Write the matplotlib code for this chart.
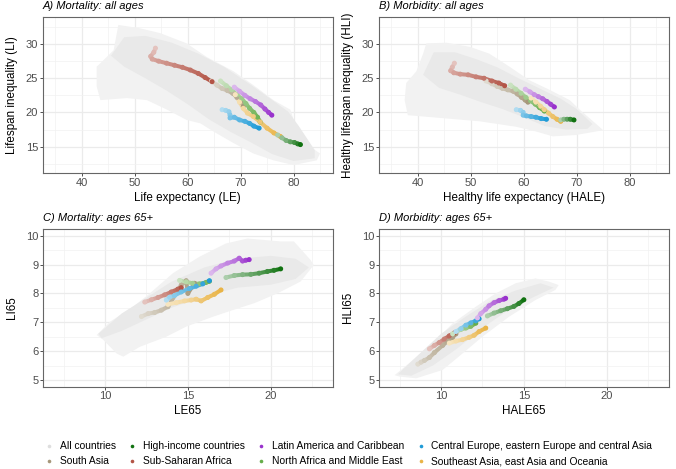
import matplotlib
matplotlib.use('Agg')
import matplotlib.pyplot as plt
import numpy as np
from matplotlib.collections import LineCollection
from matplotlib.patches import Polygon
from matplotlib.lines import Line2D
import matplotlib.colors as mcolors

plt.rcParams['font.family'] = ['Liberation Sans', 'DejaVu Sans']

# ---------------- categories / colours ----------------
region_keys = ['HI', 'LAC', 'CEE', 'SA', 'SSA', 'NAME', 'SEA']
region_names = {
    'HI': 'High-income countries',
    'LAC': 'Latin America and Caribbean',
    'CEE': 'Central Europe, eastern Europe and central Asia',
    'SA': 'South Asia',
    'SSA': 'Sub-Saharan Africa',
    'NAME': 'North Africa and Middle East',
    'SEA': 'Southeast Asia, east Asia and Oceania',
}
region_colors = {
    'HI': '#117211', 'LAC': '#9932cc', 'CEE': '#1f9bd7', 'SA': '#a6977a',
    'SSA': '#b35446', 'NAME': '#66ad4a', 'SEA': '#e9b447',
}
draw_order = ['SA', 'SSA', 'NAME', 'SEA', 'CEE', 'LAC', 'HI']

# ---------------- Panel A: LE vs LI (all ages) ----------------
A_x = {
    'SSA': [53.9, 53.6, 53.0, 53.3, 54.5, 56.0, 57.5, 59.0, 60.5, 62.0, 63.3, 64.6],
    'SA': [64.5, 65.5, 66.5, 67.5, 68.5, 69.3, 70.0, 70.5],
    'NAME': [66.2, 67.3, 68.3, 69.3, 70.2, 71.0, 71.7, 72.5, 73.2, 73.7],
    'SEA': [69.0, 69.8, 70.5, 71.3, 72.4, 73.7, 75.0, 76.3, 77.5],
    'HI': [77.0, 77.8, 78.6, 79.4, 80.2, 80.8, 81.3],
    'LAC': [68.8, 69.8, 70.8, 71.8, 72.8, 73.8, 74.6, 75.3, 75.9],
    'CEE': [66.5, 67.2, 67.8, 68.0, 68.0, 68.8, 69.8, 70.8, 71.7, 72.5, 73.5],
}
A_y = {
    'SSA': [29.4, 28.8, 28.2, 27.8, 27.5, 27.2, 26.9, 26.6, 26.2, 25.7, 25.1, 24.5],
    'SA': [24.6, 24.0, 23.5, 23.2, 22.8, 22.2, 21.5, 20.9],
    'NAME': [24.6, 23.9, 23.3, 22.6, 22.0, 21.3, 20.6, 20.0, 19.3, 18.6],
    'SEA': [22.6, 21.5, 20.6, 19.9, 19.4, 18.6, 17.7, 17.0, 16.5],
    'HI': [16.7, 16.3, 15.9, 15.7, 15.6, 15.4, 15.3],
    'LAC': [23.7, 23.1, 22.5, 22.0, 21.6, 21.1, 20.5, 20.0, 19.6],
    'CEE': [20.4, 20.3, 20.1, 19.6, 19.2, 19.3, 18.9, 18.7, 18.4, 18.0, 17.7],
}
A_cloud_outer_x = [46.9, 51.0, 54.8, 59.8, 63.6, 68.7, 72.4, 76.2, 79.4, 81.3, 85.0, 84.4, 80.0,
                   76.2, 72.4, 68.7, 64.9, 62.4, 59.8, 56.1, 52.3, 48.5, 43.5, 42.8, 42.8, 43.5, 46.0]
A_cloud_outer_y = [32.8, 32.3, 31.6, 30.1, 28.1, 26.0, 24.0, 21.8, 20.4, 16.0, 14.0, 13.0, 12.3,
                   13.0, 14.0, 15.5, 17.2, 18.4, 18.9, 20.4, 21.8, 22.1, 21.8, 23.8, 26.7, 27.2, 29.1]
A_cloud_inner_x = [48.0, 52.0, 57.0, 62.0, 67.0, 72.0, 76.0, 79.0, 81.0, 84.0, 84.0, 80.0, 76.0,
                   72.0, 68.0, 64.0, 60.0, 56.0, 52.0, 48.0, 45.5]
A_cloud_inner_y = [31.0, 31.2, 30.2, 28.6, 26.6, 24.0, 21.8, 20.1, 18.0, 14.5, 13.3, 12.9, 13.9,
                   15.6, 17.2, 19.0, 21.2, 23.2, 25.0, 26.7, 28.3]

# ---------------- Panel B: HALE vs HLI (all ages) ----------------
B_x = {
    'SSA': [46.9, 46.5, 46.2, 46.8, 48.0, 49.5, 51.0, 52.5, 54.0, 55.3, 56.4],
    'SA': [52.9, 54.0, 55.0, 56.0, 57.0, 58.0, 58.8, 59.6, 60.3, 60.8],
    'NAME': [57.5, 58.5, 59.5, 60.4, 61.3, 62.2, 63.0, 63.9],
    'SEA': [61.4, 62.3, 63.2, 63.9, 64.7, 65.5, 66.3, 67.0],
    'HI': [67.0, 67.6, 68.2, 68.8, 69.5],
    'LAC': [60.3, 61.2, 62.0, 62.8, 63.6, 64.4, 65.1, 65.8],
    'CEE': [58.6, 59.4, 59.9, 59.9, 60.5, 61.4, 62.3, 63.3, 64.3],
}
B_y = {
    'SSA': [27.2, 26.6, 26.1, 25.8, 25.6, 25.5, 25.2, 25.0, 24.6, 24.3, 23.9],
    'SA': [24.6, 24.2, 23.8, 23.5, 23.3, 23.1, 22.7, 22.2, 21.8, 21.5],
    'NAME': [24.0, 23.4, 22.8, 22.2, 21.7, 21.2, 20.7, 20.2],
    'SEA': [22.1, 21.5, 20.9, 20.4, 19.9, 19.4, 19.0, 18.7],
    'HI': [18.9, 19.0, 19.0, 19.0, 18.9],
    'LAC': [23.4, 23.0, 22.6, 22.3, 22.0, 21.6, 21.2, 20.8],
    'CEE': [20.4, 20.3, 20.0, 19.6, 19.5, 19.4, 19.3, 19.1, 19.0],
}
B_cloud_outer_x = [41.6, 45.4, 49.8, 53.5, 57.3, 61.1, 64.9, 68.7, 70.6, 74.3, 75.0, 69.9, 65.5,
                   62.4, 58.6, 51.7, 38.1, 37.5, 37.8, 39.7, 41.0]
B_cloud_outer_y = [30.1, 30.2, 29.6, 28.6, 26.7, 24.7, 23.3, 21.8, 20.4, 17.9, 17.4, 16.7, 16.5,
                   17.2, 17.9, 18.7, 19.6, 21.8, 24.3, 26.0, 28.6]
B_cloud_inner_x = [43.0, 47.0, 51.0, 55.0, 59.0, 63.0, 67.0, 70.0, 73.0, 72.0, 68.0, 64.0,
                   60.0, 56.0, 52.0, 48.0, 44.0, 41.0]
B_cloud_inner_y = [28.8, 28.8, 27.8, 26.6, 25.0, 23.5, 22.0, 20.5, 18.3, 17.6, 17.5, 18.0,
                   19.3, 20.5, 21.5, 22.6, 23.6, 25.5]

# ---------------- Panel C: LE65 vs LI65 ----------------
C_x = {
    'SSA': [12.4, 12.8, 13.2, 13.6, 14.0, 14.4, 14.6],
    'SA': [12.2, 12.6, 13.0, 13.4, 13.8, 14.6, 14.9, 15.0, 15.4],
    'NAME': [14.5, 14.9, 15.3, 15.7, 16.1, 16.3],
    'SEA': [13.8, 14.3, 14.8, 15.2, 15.5, 15.8, 16.2, 16.6, 17.0],
    'CEE': [13.7, 13.9, 14.2, 14.6, 15.1, 15.5, 15.9, 16.3],
    'LAC': [16.4, 16.7, 17.0, 17.4, 17.8, 18.1, 18.3, 18.5, 18.7],
    'HI': [17.3, 17.8, 18.3, 18.8, 19.3, 19.8, 20.2, 20.6],
}
C_y = {
    'SSA': [7.70, 7.78, 7.86, 7.95, 8.05, 8.15, 8.20],
    'SA': [7.20, 7.30, 7.34, 7.42, 7.54, 8.29, 8.44, 8.00, 8.35],
    'NAME': [8.45, 8.40, 8.35, 8.33, 8.38, 8.42],
    'SEA': [7.62, 7.68, 7.74, 7.77, 7.80, 7.74, 7.86, 7.97, 8.12],
    'CEE': [7.77, 7.87, 7.93, 8.05, 8.17, 8.25, 8.33, 8.44],
    'LAC': [8.70, 8.85, 8.95, 9.05, 9.12, 9.22, 9.12, 9.15, 9.17],
    'HI': [8.55, 8.62, 8.65, 8.66, 8.70, 8.76, 8.80, 8.85],
}
C_cloud_outer_x = [9.5, 10.3, 11.7, 12.7, 14.1, 15.7, 17.3, 18.6, 20.6, 21.4, 22.4, 22.6, 21.8,
                   20.4, 19.0, 17.7, 16.5, 14.9, 13.7, 12.1, 11.1, 10.7, 9.9]
C_cloud_outer_y = [6.56, 7.02, 7.54, 8.00, 8.70, 9.27, 9.73, 9.90, 9.80, 9.80, 9.16, 8.98, 8.41,
                   8.00, 7.66, 7.42, 7.19, 6.85, 6.50, 6.15, 5.81, 5.92, 6.39]
C_cloud_inner_x = [9.6, 11.0, 12.5, 14.0, 16.0, 18.0, 20.0, 21.5, 22.3, 21.5, 20.0, 18.0, 16.0,
                   14.0, 12.5, 11.0, 9.8]
C_cloud_inner_y = [6.60, 7.30, 7.85, 8.40, 8.90, 9.20, 9.30, 9.20, 8.90, 8.50, 8.30, 8.20, 7.90,
                   7.50, 7.10, 6.70, 6.45]

# ---------------- Panel D: HALE65 vs HLI65 ----------------
D_x = {
    'SSA': [9.3, 9.6, 9.9, 10.2, 10.5, 10.8],
    'SA': [8.6, 8.8, 9.0, 9.3, 9.6, 10.1, 10.4, 10.7, 10.9],
    'SEA': [10.5, 10.9, 11.3, 11.7, 12.0, 12.3, 12.7],
    'NAME': [10.7, 11.2, 11.5, 11.8, 12.1],
    'CEE': [10.9, 11.2, 11.5, 11.8, 12.1, 12.3],
    'LAC': [12.2, 12.4, 12.7, 12.9, 13.2, 13.5, 13.8, 13.9],
    'HI': [12.8, 13.2, 13.6, 14.0, 14.4, 14.7, 15.0],
}
D_y = {
    'SSA': [6.08, 6.20, 6.30, 6.42, 6.53, 6.63],
    'SA': [5.55, 5.62, 5.68, 5.78, 5.95, 6.20, 6.35, 6.48, 6.60],
    'SEA': [6.28, 6.35, 6.40, 6.48, 6.55, 6.68, 6.80],
    'NAME': [6.60, 6.75, 6.80, 6.86, 6.97],
    'CEE': [6.68, 6.78, 6.90, 6.98, 7.05, 7.12],
    'LAC': [7.15, 7.30, 7.45, 7.57, 7.68, 7.75, 7.80, 7.83],
    'HI': [7.22, 7.32, 7.40, 7.47, 7.55, 7.65, 7.78],
}
D_cloud_outer_x = [7.2, 8.3, 9.5, 10.7, 12.1, 13.3, 14.5, 15.7, 16.5, 17.1, 16.9, 15.7, 14.1,
                   12.5, 11.3, 10.1, 8.5, 7.5]
D_cloud_outer_y = [5.17, 5.69, 6.27, 6.96, 7.54, 8.00, 8.35, 8.52, 8.41, 8.29, 8.12, 7.77, 7.19,
                   6.50, 5.92, 5.35, 5.06, 5.12]
D_cloud_inner_x = [7.4, 8.5, 10.0, 11.5, 13.0, 14.5, 16.0, 16.8, 15.5, 14.0, 12.5, 11.0, 9.5, 8.2]
D_cloud_inner_y = [5.20, 5.80, 6.60, 7.20, 7.75, 8.10, 8.35, 8.20, 7.85, 7.40, 6.80, 6.10, 5.50, 5.15]

panels = [
    dict(title='A) Mortality: all ages', xlabel='Life expectancy (LE)', ylabel='Lifespan inequality (LI)',
         x=A_x, y=A_y, co=(A_cloud_outer_x, A_cloud_outer_y), ci=(A_cloud_inner_x, A_cloud_inner_y), kind='all'),
    dict(title='B) Morbidity: all ages', xlabel='Healthy life expectancy (HALE)', ylabel='Healthy lifespan inequality (HLI)',
         x=B_x, y=B_y, co=(B_cloud_outer_x, B_cloud_outer_y), ci=(B_cloud_inner_x, B_cloud_inner_y), kind='all'),
    dict(title='C) Mortality: ages 65+', xlabel='LE65', ylabel='LI65',
         x=C_x, y=C_y, co=(C_cloud_outer_x, C_cloud_outer_y), ci=(C_cloud_inner_x, C_cloud_inner_y), kind='65'),
    dict(title='D) Morbidity: ages 65+', xlabel='HALE65', ylabel='HLI65',
         x=D_x, y=D_y, co=(D_cloud_outer_x, D_cloud_outer_y), ci=(D_cloud_inner_x, D_cloud_inner_y), kind='65'),
]

W, H = 676, 469
fig = plt.figure(figsize=(W / 100, H / 100), dpi=100)
fig.patch.set_facecolor('white')

pos = [(42.7, 16.7), (378.7, 16.7), (42.7, 229.0), (378.7, 229.0)]
heights = [156.6, 156.6, 157.7, 157.7]
axw = 290.0


def blend(c, a):
    r = np.array(mcolors.to_rgb(c))
    return tuple(1 - a * (1 - r))


for p, (lx, ty), hh in zip(panels, pos, heights):
    ax = fig.add_axes([lx / W, 1 - (ty + hh) / H, axw / W, hh / H])
    ax.set_facecolor('white')
    if p['kind'] == 'all':
        ax.set_xlim(32.6, 87.4)
        ax.set_ylim(11.1, 34.0)
        ax.set_xticks([40, 50, 60, 70, 80])
        ax.set_xticks([35, 45, 55, 65, 75, 85], minor=True)
        ax.set_yticks([15, 20, 25, 30])
        ax.set_yticks([12.5, 17.5, 22.5, 27.5, 32.5], minor=True)
    else:
        ax.set_xlim(6.24, 23.74)
        ax.set_ylim(4.77, 10.23)
        ax.set_xticks([10, 15, 20])
        ax.set_xticks([7.5, 12.5, 17.5, 22.5], minor=True)
        ax.set_yticks([5, 6, 7, 8, 9, 10])
        ax.set_yticks([5.5, 6.5, 7.5, 8.5, 9.5], minor=True)
    ax.set_axisbelow(True)
    ax.grid(which='major', color='#ebebeb', lw=0.9)
    ax.grid(which='minor', color='#f1f1f1', lw=0.5)
    ax.tick_params(which='major', length=2.0, width=0.6, color='#333333', labelsize=8.0,
                   labelcolor='#4d4d4d', pad=1.2)
    ax.tick_params(which='minor', length=0)
    for s in ax.spines.values():
        s.set_color('#666666')
        s.set_linewidth(0.8)

    # all-countries cloud
    ax.add_patch(Polygon(np.column_stack(p['co']), closed=True, fc='#f2f2f2', ec='none', zorder=1))
    ax.add_patch(Polygon(np.column_stack(p['ci']), closed=True, fc='#e9e9e9', ec='none', zorder=1.1))

    # regional trajectories (lighter = earlier years)
    for k in draw_order:
        xs = np.array(p['x'][k], dtype=float)
        ys = np.array(p['y'][k], dtype=float)
        n = len(xs)
        alphas = 0.35 + 0.65 * np.arange(n) / max(n - 1, 1)
        cols = [blend(region_colors[k], a) for a in alphas]
        segs = [[(xs[i], ys[i]), (xs[i + 1], ys[i + 1])] for i in range(n - 1)]
        segcols = [blend(region_colors[k], (alphas[i] + alphas[i + 1]) / 2) for i in range(n - 1)]
        ax.add_collection(LineCollection(segs, colors=segcols, linewidths=2.9,
                                         capstyle='round', zorder=3))
        ax.scatter(xs, ys, s=13, c=cols, edgecolors='none', zorder=4)

    ax.set_xlabel(p['xlabel'], fontsize=8.4, color='black', va='center')
    ax.xaxis.set_label_coords(0.5, -24.5 / hh)
    ax.set_ylabel(p['ylabel'], fontsize=8.4, color='black', va='center')
    ax.yaxis.set_label_coords((11.7 - lx) / axw if lx < 100 else (11.7 + 336 - lx) / axw, 0.5)
    ax.text(0.0, 1 + 11.0 / hh, p['title'], transform=ax.transAxes, ha='left', va='center',
            fontsize=8.0, style='italic', color='black')

# legend
leg_order = [('all', 'All countries', '#dedede'), ('SA', None, None), ('HI', None, None), ('SSA', None, None),
             ('LAC', None, None), ('NAME', None, None), ('CEE', None, None), ('SEA', None, None)]
handles = []
for key, lab, col in leg_order:
    if key == 'all':
        handles.append(Line2D([], [], ls='none', marker='o', ms=2.6, mfc=col, mec='none', label=lab))
    else:
        handles.append(Line2D([], [], ls='none', marker='o', ms=2.6, mfc=region_colors[key], mec='none',
                              label=region_names[key]))
fig.legend(handles=handles, loc='center', bbox_to_anchor=(348 / W, 1 - 453.7 / H), ncol=4,
           frameon=False, fontsize=7.35, handlelength=1.0, handletextpad=0.55, columnspacing=1.1,
           labelspacing=0.5, borderpad=0, borderaxespad=0)

fig.savefig('out.png', dpi=100, facecolor='white')
